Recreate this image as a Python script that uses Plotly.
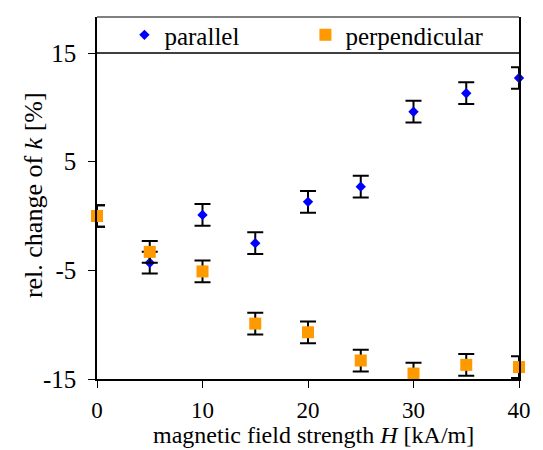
import plotly.graph_objects as go

# Field strength H [kA/m]
field_strength = [0, 5, 10, 15, 20, 25, 30, 35, 40]

# Relative change of k [%]
parallel = [0.0, -4.3, 0.1, -2.5, 1.3, 2.7, 9.6, 11.3, 12.7]
perpendicular = [0.0, -3.3, -5.1, -9.9, -10.7, -13.3, -14.5, -13.7, -13.9]

# Measurement uncertainty [%]
parallel_err = [1.0, 1.0, 1.0, 1.0, 1.0, 1.0, 1.0, 1.0, 1.0]
perpendicular_err = [1.0, 1.0, 1.0, 1.0, 1.0, 1.0, 1.0, 1.0, 1.0]

x_ticks = [0, 10, 20, 30, 40]
y_ticks = [-15, -5, 5, 15]

SERIF = "Liberation Serif"
Y_TOP = 18.313  # room above 15 for the legend band

err_style = dict(type="data", visible=True, color="black", thickness=2, width=8)

fig = go.Figure()
fig.add_trace(go.Scatter(
    x=field_strength, y=parallel, mode="markers", name="parallel",
    marker=dict(symbol="diamond", size=8, color="#0000FF"),
    error_y=dict(array=parallel_err, **err_style),
    cliponaxis=False,
))
fig.add_trace(go.Scatter(
    x=field_strength, y=perpendicular, mode="markers", name="perpendicular",
    marker=dict(symbol="square", size=12, color="#FF9900"),
    error_y=dict(array=perpendicular_err, **err_style),
    cliponaxis=False,
))

fig.update_layout(
    width=543, height=450,
    margin=dict(l=97, r=21, t=12, b=71, pad=0),
    paper_bgcolor="white", plot_bgcolor="white",
    font=dict(family=SERIF, color="black", size=24),
    showlegend=True,
    legend=dict(
        orientation="h", x=0.065, xanchor="left", y=0.95, yanchor="middle",
        bgcolor="rgba(0,0,0,0)", borderwidth=0,
        font=dict(family=SERIF, size=25, color="black"),
        entrywidth=136, entrywidthmode="pixels",
    ),
    xaxis=dict(
        range=[0, 40], tickvals=x_ticks, ticktext=[str(v) for v in x_ticks],
        showgrid=False, zeroline=False,
        showline=True, linecolor="black", linewidth=2,
        ticks="outside", ticklen=7, tickwidth=1, tickcolor="black",
        tickfont=dict(family=SERIF, size=23), ticklabelstandoff=2,
    ),
    yaxis=dict(
        range=[-15, Y_TOP], tickvals=y_ticks, ticktext=[str(v) for v in y_ticks],
        showgrid=False, zeroline=False,
        showline=True, linecolor="black", linewidth=1.5, mirror=True,
        ticks="outside", ticklen=7, tickwidth=1, tickcolor="black",
        tickfont=dict(family=SERIF, size=25), ticklabelstandoff=7,
    ),
    shapes=[
        # top border of the frame
        dict(type="line", xref="paper", yref="paper", x0=0, x1=1, y0=1, y1=1,
             line=dict(color="black", width=1)),
        # lower edge of the legend band
        dict(type="line", xref="paper", yref="y", x0=0, x1=1, y0=15, y1=15,
             line=dict(color="black", width=1.5)),
    ],
    annotations=[
        dict(text="magnetic field strength <i>H</i> [kA/m]",
             xref="paper", yref="paper", x=0.514, y=0, yshift=-56,
             xanchor="center", yanchor="middle", showarrow=False,
             font=dict(family=SERIF, size=24, color="black")),
        dict(text="rel. change of <i>k</i> [%]",
             xref="paper", yref="paper", x=0, y=0.508, xshift=-64,
             xanchor="center", yanchor="middle", textangle=-90, showarrow=False,
             font=dict(family=SERIF, size=26, color="black")),
    ],
)

fig.write_html("out.html")
